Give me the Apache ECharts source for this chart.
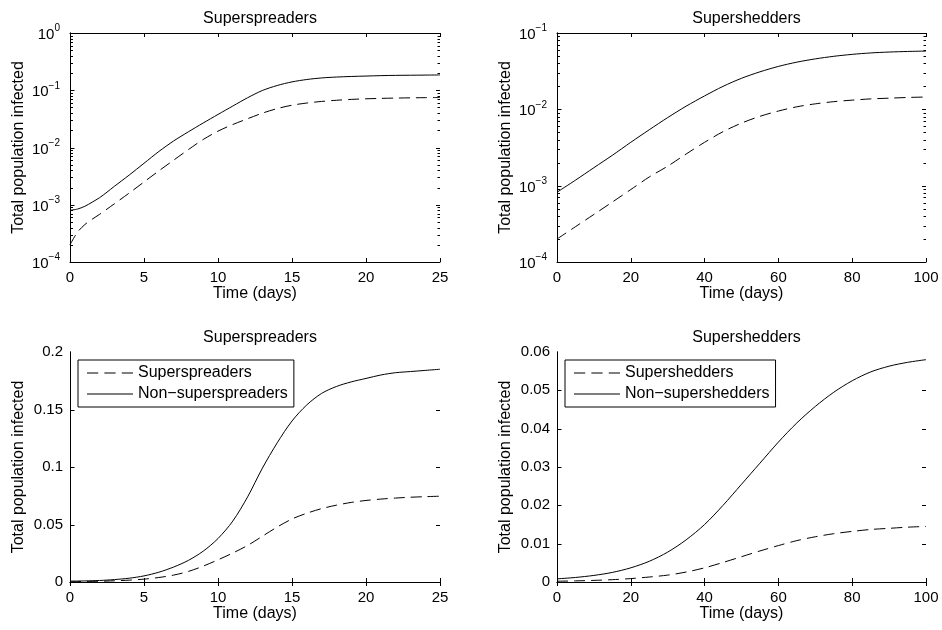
<!DOCTYPE html>
<html>
<head>
<meta charset="utf-8">
<script src="https://cdn.jsdelivr.net/npm/echarts@6/dist/echarts.min.js"></script>
<style>
  html, body { margin: 0; padding: 0; background: #fff; }
  #chart { width: 942px; height: 630px; }
</style>
</head>
<body>
<div id="chart"></div>
<script>
// Superspreader scenario: fraction of population infected over time
const spreadTime  = [0, 0.5, 1, 1.5, 2, 2.5, 3, 4, 5, 6, 7, 8, 9, 10, 11, 12, 13, 14, 15, 16, 17, 18, 19, 20, 21, 22, 23, 24, 25];
const spreadSuper = [0.0002, 0.00033, 0.00045, 0.00056, 0.00068, 0.00084, 0.00104, 0.0016, 0.0025, 0.0039, 0.006, 0.0092, 0.0138, 0.0193, 0.0252, 0.0318, 0.0398, 0.0478, 0.0548, 0.0598, 0.0638, 0.0668, 0.0692, 0.0709, 0.0721, 0.073, 0.0737, 0.0742, 0.0746];
const spreadNon   = [0.0008, 0.00084, 0.00094, 0.00111, 0.00133, 0.00166, 0.0021, 0.0033, 0.0053, 0.0085, 0.013, 0.0188, 0.0268, 0.0378, 0.053, 0.074, 0.099, 0.121, 0.140, 0.154, 0.164, 0.170, 0.174, 0.177, 0.180, 0.182, 0.183, 0.184, 0.185];

// Supershedder scenario
const shedTime  = [0, 5, 10, 15, 20, 25, 30, 35, 40, 45, 50, 55, 60, 65, 70, 75, 80, 85, 90, 95, 100];
const shedSuper = [0.0002, 0.00029, 0.00042, 0.00061, 0.00089, 0.0013, 0.0018, 0.0026, 0.0037, 0.0051, 0.0066, 0.0081, 0.0095, 0.0108, 0.0118, 0.0126, 0.0132, 0.0137, 0.0140, 0.0143, 0.0145];
const shedNon   = [0.00082, 0.00118, 0.00172, 0.0025, 0.0037, 0.0054, 0.0078, 0.011, 0.015, 0.020, 0.0255, 0.031, 0.0365, 0.0415, 0.0458, 0.0495, 0.0525, 0.0548, 0.0563, 0.0573, 0.058];

const panelTitles = ['Superspreaders', 'Supershedders', 'Superspreaders', 'Supershedders'];
const legendNames = [['Superspreaders', 'Non\u2212superspreaders'], ['Supershedders', 'Non\u2212supershedders']];
const xLabel = 'Time (days)';
const yLabel = 'Total population infected';

// minor tick values for the log axes (2..9 x 10^k)
const logMinor = [];
for (let k = -4; k < 0; k++) {
  for (let m = 2; m <= 9; m++) logMinor.push(m * Math.pow(10, k));
}

const FONT = 'Liberation Sans, Arial, Helvetica, sans-serif';
const BLACK = '#000';

const grids = [
  { left: 70,  top: 33,  width: 370, height: 229 },
  { left: 557, top: 33,  width: 369, height: 229 },
  { left: 70,  top: 352, width: 370, height: 230 },
  { left: 557, top: 352, width: 369, height: 230 }
];

const xSpec = [
  { max: 25, interval: 5 }, { max: 100, interval: 20 },
  { max: 25, interval: 5 }, { max: 100, interval: 20 }
];
const ySpec = [
  { type: 'log', min: 1e-4, max: 1 },
  { type: 'log', min: 1e-4, max: 0.1 },
  { type: 'value', min: 0, max: 0.2, interval: 0.05 },
  { type: 'value', min: 0, max: 0.06, interval: 0.01 }
];

function pair(t, v) { return t.map((x, i) => [x, v[i]]); }

function logLabel(v) {
  const e = Math.round(Math.log10(v));
  return '{b|10}{e|' + (e < 0 ? '\u2212' + (-e) : e) + '}';
}

const xAxis = [], yAxis = [];
grids.forEach((g, i) => {
  const xs = xSpec[i];
  const base = {
    gridIndex: i, type: 'value', min: 0, max: xs.max, interval: xs.interval,
    axisLine: { show: true, lineStyle: { color: BLACK, width: 1 } },
    axisTick: { show: true, inside: true, length: 4, lineStyle: { color: BLACK } },
    splitLine: { show: false }
  };
  xAxis.push(Object.assign({}, base, {
    position: 'bottom',
    name: xLabel, nameLocation: 'middle', nameGap: 22,
    nameTextStyle: { fontFamily: FONT, fontSize: 16, color: BLACK },
    axisLabel: { margin: 8, fontFamily: FONT, fontSize: 15, color: BLACK }
  }));
  xAxis.push(Object.assign({}, base, { position: 'top', axisLabel: { show: false } }));

  const ys = ySpec[i];
  // y ticks are drawn separately on both edges (see below)
  const ybase = {
    gridIndex: i, type: ys.type, min: ys.min, max: ys.max,
    axisLine: { show: true, lineStyle: { color: BLACK, width: 1 } },
    axisTick: { show: false },
    splitLine: { show: false }
  };
  if (ys.type === 'log') ybase.logBase = 10;
  if (ys.interval) ybase.interval = ys.interval;
  const labelCfg = ys.type === 'log'
    ? {
        margin: 10, formatter: logLabel,
        rich: {
          b: { fontFamily: FONT, fontSize: 15, color: BLACK, verticalAlign: 'bottom' },
          e: { fontFamily: FONT, fontSize: 10, color: BLACK, verticalAlign: 'bottom', padding: [0, 0, 9, 0] }
        }
      }
    : { margin: 7, fontFamily: FONT, fontSize: 15, color: BLACK };
  yAxis.push(Object.assign({}, ybase, {
    position: 'left',
    name: yLabel, nameLocation: 'middle', nameGap: 43,
    nameTextStyle: { fontFamily: FONT, fontSize: 16, color: BLACK },
    axisLabel: labelCfg
  }));
  yAxis.push(Object.assign({}, ybase, { position: 'right', axisLabel: { show: false } }));
});

const title = grids.map((g, i) => ({
  text: panelTitles[i],
  left: g.left + g.width / 2,
  textAlign: 'center',
  top: g.top - 27,
  textStyle: { fontFamily: FONT, fontSize: 16, fontWeight: 'normal', color: BLACK }
}));

const dashStyle = { color: BLACK, width: 1, type: [11, 6] };
const solidStyle = { color: BLACK, width: 1, type: 'solid' };

function lineSeries(name, idx, data, style) {
  return {
    type: 'line', name: name, xAxisIndex: idx * 2, yAxisIndex: idx * 2,
    data: data, showSymbol: false, symbol: 'none',
    smooth: 0.3,
    lineStyle: style, itemStyle: { color: BLACK },
    animation: false, silent: true
  };
}

const series = [];
const panelData = [
  [spreadTime, spreadSuper, spreadNon, legendNames[0]],
  [shedTime, shedSuper, shedNon, legendNames[1]],
  [spreadTime, spreadSuper, spreadNon, legendNames[0]],
  [shedTime, shedSuper, shedNon, legendNames[1]]
];
panelData.forEach((p, i) => {
  series.push(lineSeries(p[3][0], i, pair(p[0], p[1]), dashStyle));
  series.push(lineSeries(p[3][1], i, pair(p[0], p[2]), solidStyle));
});

// legend samples: a dashed and a solid stroke
const dashIcon = 'path://M0,0H11V1H0Z M17,0H28V1H17Z M34,0H45V1H34Z';
const solidIcon = 'path://M0,0H46V1H0Z';

const legend = [2, 3].map((gi, k) => ({
  data: [
    { name: legendNames[k][0], icon: dashIcon },
    { name: legendNames[k][1], icon: solidIcon }
  ],
  orient: 'vertical',
  left: grids[gi].left + 8,
  top: grids[gi].top + 8,
  itemWidth: 46, itemHeight: 14, itemGap: 5,
  padding: [5, 6, 5, 9],
  borderColor: BLACK, borderWidth: 1, borderRadius: 0,
  backgroundColor: '#fff',
  selectedMode: false,
  itemStyle: { color: BLACK },
  textStyle: { fontFamily: FONT, fontSize: 16, color: BLACK, lineHeight: 16 }
}));

const chart = echarts.init(document.getElementById('chart'), null, { renderer: 'canvas' });
chart.setOption({
  backgroundColor: '#fff',
  animation: false,
  title: title,
  grid: grids,
  xAxis: xAxis,
  yAxis: yAxis,
  legend: legend,
  series: series
});

// inward y ticks on the left and right edges, placed through each y-axis scale:
// major ticks at the labelled values, minor ticks at 2..9 x 10^k on log panels
const tickMarks = [];
function addTick(g, y, len) {
  tickMarks.push({
    type: 'line', silent: true, zlevel: 1, z: 100,
    shape: { x1: g.left + 0.5, y1: y, x2: g.left + 0.5 + len, y2: y },
    style: { stroke: BLACK, lineWidth: 1 }
  });
  tickMarks.push({
    type: 'line', silent: true, zlevel: 1, z: 100,
    shape: { x1: g.left + g.width - len, y1: y, x2: g.left + g.width, y2: y },
    style: { stroke: BLACK, lineWidth: 1 }
  });
}
grids.forEach((g, i) => {
  const ys = ySpec[i];
  const major = [], minor = [];
  if (ys.type === 'log') {
    for (let v = ys.min; v <= ys.max * 1.0001; v *= 10) major.push(v);
    logMinor.filter(v => v < ys.max).forEach(v => minor.push(v));
  } else {
    const n = Math.round((ys.max - ys.min) / ys.interval);
    for (let k = 1; k < n; k++) major.push(ys.min + k * ys.interval);
  }
  major.forEach(v => {
    const y = Math.round(chart.convertToPixel({ yAxisIndex: i * 2 }, v)) + 0.5;
    addTick(g, y, 4);
  });
  minor.forEach(v => {
    const y = Math.round(chart.convertToPixel({ yAxisIndex: i * 2 }, v)) + 0.5;
    addTick(g, y, 2.5);
  });
});
chart.setOption({ graphic: { elements: tickMarks } });
</script>
</body>
</html>
